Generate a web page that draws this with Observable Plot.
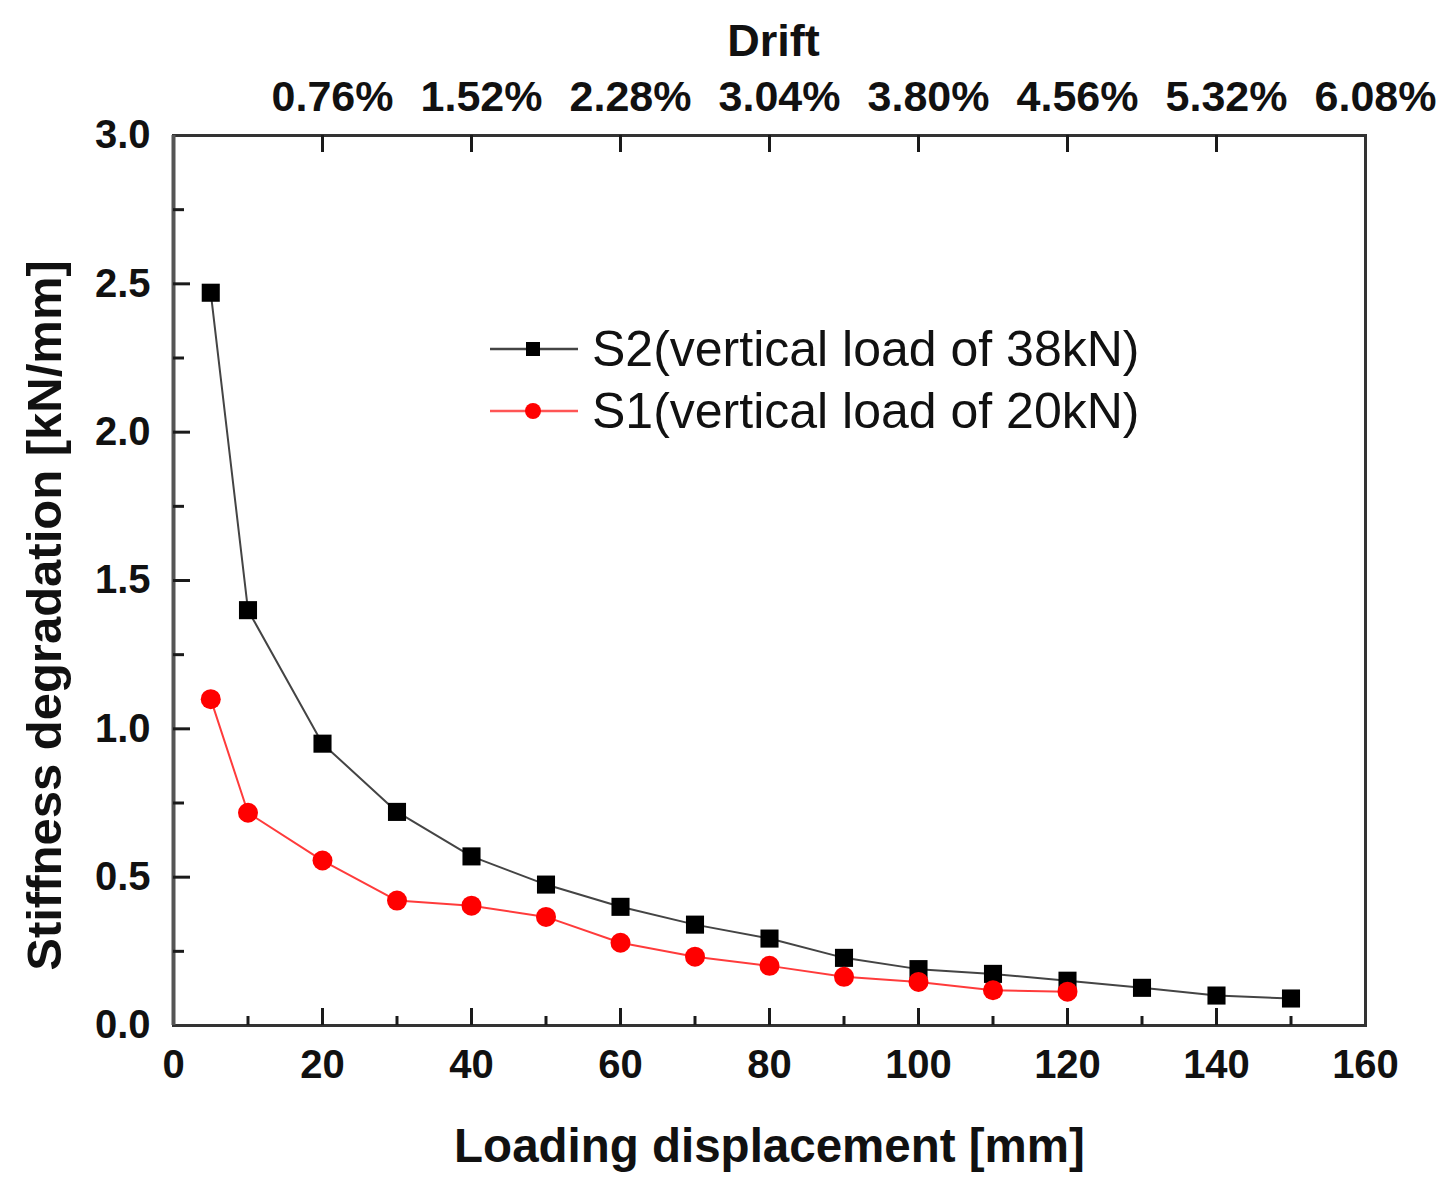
<!DOCTYPE html>
<html>
<head>
<meta charset="utf-8">
<script src="https://cdn.jsdelivr.net/npm/d3@7"></script>
<script src="https://cdn.jsdelivr.net/npm/@observablehq/plot@0.6"></script>
<style>
  html, body { margin: 0; padding: 0; background: #fff; }
  #wrap { position: relative; width: 1446px; height: 1195px; font-family: "Liberation Sans", Arial, sans-serif; }
  #legend { position: absolute; left: 488px; top: 318px; font-family: "Liberation Sans", Arial, sans-serif; font-size: 50px; color: #111; }
  #legend .row { display: flex; align-items: center; height: 62px; }
  #legend svg { margin-right: 12px; }
</style>
</head>
<body>
<div id="wrap"></div>
<script>
// ---- data ----
const s2Disp = [5, 10, 20, 30, 40, 50, 60, 70, 80, 90, 100, 110, 120, 130, 140, 150];
const s2Stiff = [2.47, 1.40, 0.95, 0.72, 0.57, 0.475, 0.40, 0.34, 0.293, 0.228, 0.19, 0.174, 0.151, 0.127, 0.101, 0.091];
const s1Disp = [5, 10, 20, 30, 40, 50, 60, 70, 80, 90, 100, 110, 120];
const s1Stiff = [1.10, 0.717, 0.556, 0.421, 0.404, 0.366, 0.279, 0.232, 0.201, 0.164, 0.147, 0.119, 0.114];
const seriesNames = ["S2(vertical load of 38kN)", "S1(vertical load of 20kN)"];
const xTicks = [0, 20, 40, 60, 80, 100, 120, 140, 160];
const xMajorMarks = [20, 40, 60, 80, 100, 120, 140];
const xMinorMarks = [10, 30, 50, 70, 90, 110, 130, 150];
const yTicks = [0, 0.5, 1.0, 1.5, 2.0, 2.5, 3.0];
const yMajorMarks = [0.5, 1.0, 1.5, 2.0, 2.5];
const yMinorMarks = [0.25, 0.75, 1.25, 1.75, 2.25, 2.75];
const driftTicks = [20, 40, 60, 80, 100, 120, 140, 160];
const driftLabels = ["0.76%", "1.52%", "2.28%", "3.04%", "3.80%", "4.56%", "5.32%", "6.08%"];
const driftMarks = [20, 40, 60, 80, 100, 120, 140];
const xTitle = "Loading displacement [mm]";
const yTitle = "Stiffness degradation [kN/mm]";
const topTitle = "Drift";

const s2 = s2Disp.map((x, i) => ({x, y: s2Stiff[i]}));
const s1 = s1Disp.map((x, i) => ({x, y: s1Stiff[i]}));
const driftMap = new Map(driftTicks.map((t, i) => [t, driftLabels[i]]));

const font = "Liberation Sans, Arial, sans-serif";
const W = 1446, H = 1195, mL = 173, mR = 81, mT = 135, mB = 170;
const frameW = W - mL - mR, frameH = H - mT - mB;
const majorLen = 17, minorLen = 9;
const tickStyle = {stroke: "#1a1a1a", strokeWidth: 3};

const chart = Plot.plot({
  width: W,
  height: H,
  marginLeft: mL,
  marginRight: mR,
  marginTop: mT,
  marginBottom: mB,
  style: {fontFamily: font, background: "#fff", color: "#111"},
  x: {domain: [0, 160]},
  y: {domain: [0, 3.0]},
  marks: [
    // tick labels
    Plot.axisX({anchor: "bottom", ticks: xTicks, tickSize: 0, tickPadding: 24, fontSize: 40, fontWeight: "bold", label: null, fill: "#111"}),
    Plot.axisX({anchor: "top", ticks: driftTicks, tickSize: 0, tickPadding: 25, dx: 10, tickFormat: d => driftMap.get(d), fontSize: 43, fontWeight: "bold", label: null, fill: "#111"}),
    Plot.axisY({anchor: "left", ticks: yTicks, tickSize: 0, tickPadding: 23, tickFormat: d3.format(".1f"), fontSize: 40, fontWeight: "bold", label: null, fill: "#111"}),
    // frame
    Plot.frame({stroke: "#333", strokeWidth: 3}),
    Plot.ruleX([0], {stroke: "#555", strokeWidth: 4}),
    // inward tick marks (short rules from the frame edge)
    Plot.tickX(xMajorMarks, {x: d => d, insetTop: frameH - majorLen, ...tickStyle}),
    Plot.tickX(xMinorMarks, {x: d => d, insetTop: frameH - minorLen, ...tickStyle}),
    Plot.tickX(driftMarks, {x: d => d, insetBottom: frameH - majorLen, ...tickStyle}),
    Plot.tickY(yMajorMarks, {y: d => d, insetRight: frameW - majorLen, ...tickStyle}),
    Plot.tickY(yMinorMarks, {y: d => d, insetRight: frameW - (minorLen + 2), ...tickStyle}),
    // titles
    Plot.text([xTitle], {frameAnchor: "bottom", lineAnchor: "middle", textAnchor: "middle", dy: 121, fontSize: 47.5, fontWeight: "bold", fill: "#111"}),
    Plot.text([yTitle], {frameAnchor: "left", lineAnchor: "middle", textAnchor: "middle", dx: -128, dy: 35, rotate: -90, fontSize: 49, fontWeight: "bold", fill: "#111"}),
    Plot.text([topTitle], {frameAnchor: "top", lineAnchor: "middle", textAnchor: "middle", dy: -94, dx: 4, fontSize: 45, fontWeight: "bold", fill: "#111"}),
    // data
    Plot.line(s2, {x: "x", y: "y", stroke: "#444", strokeWidth: 2}),
    Plot.line(s1, {x: "x", y: "y", stroke: "#ff3b3b", strokeWidth: 2}),
    Plot.dot(s2, {x: "x", y: "y", symbol: "square", r: 10.2, fill: "#000", stroke: "none"}),
    Plot.dot(s1, {x: "x", y: "y", symbol: "circle", r: 10, fill: "#ff0000", stroke: "none"})
  ]
});

const wrap = document.getElementById("wrap");
wrap.appendChild(chart);

// legend overlay
const legend = document.createElement("div");
legend.id = "legend";
const legendStyles = [
  {line: "#444", fill: "#000", shape: "square"},
  {line: "#ff5555", fill: "#ff0000", shape: "circle"}
];
seriesNames.forEach((name, i) => {
  const st = legendStyles[i];
  const row = document.createElement("div");
  row.className = "row";
  const marker = st.shape === "square"
    ? `<rect x="38" y="21" width="14" height="14" fill="${st.fill}"/>`
    : `<circle cx="45" cy="28" r="8" fill="${st.fill}"/>`;
  row.innerHTML = `<svg width="92" height="56"><line x1="2" x2="90" y1="28" y2="28" stroke="${st.line}" stroke-width="2.5"/>${marker}</svg><span>${name}</span>`;
  legend.appendChild(row);
});
wrap.appendChild(legend);
</script>
</body>
</html>
